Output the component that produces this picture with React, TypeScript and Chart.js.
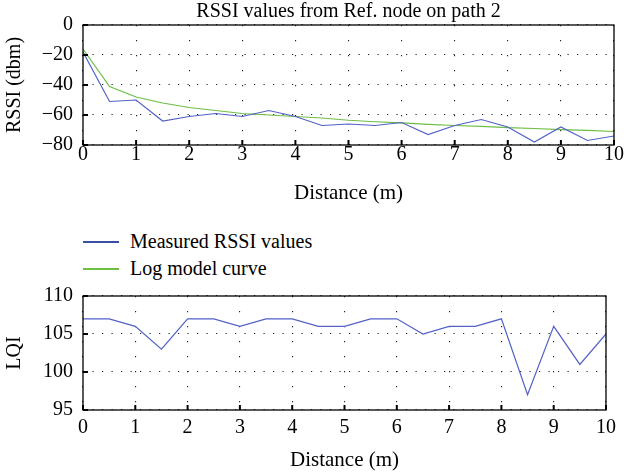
import React, { useEffect, useRef } from "react";
import { Chart, registerables } from "chart.js";

Chart.register(...registerables);

const distance = [0, 0.5, 1, 1.5, 2, 2.5, 3, 3.5, 4, 4.5, 5, 5.5, 6, 6.5, 7, 7.5, 8, 8.5, 9, 9.5, 10];
const measuredRSSI = [-18, -51, -50, -64, -61, -59, -61, -57, -61, -67, -66, -67, -65, -73, -67, -63, -68, -78, -68, -77, -74];
const logModelRSSI = [-16, -41, -48, -52, -55, -57, -59, -60, -61, -62, -63.5, -64.5, -65.3, -66.2, -67, -67.6, -68.4, -69, -69.7, -70.3, -71];
const measuredLQI = [107, 107, 106, 103, 107, 107, 106, 107, 107, 106, 106, 107, 107, 105, 106, 106, 107, 97, 106, 101, 105];
const xTickValues = [0, 1, 2, 3, 4, 5, 6, 7, 8, 9, 10];
const rssiTickValues = [0, -20, -40, -60, -80];
const lqiTickValues = [95, 100, 105, 110];
const seriesLabels = ["Measured RSSI values", "Log model curve"];
const seriesColors = ["#5262c8", "#6dbe45"];
const legendColors = ["#3a4fa3", "#6cbf3f"];

const FONT = "'Liberation Serif', 'Times New Roman', serif";

const framePlugin = {
  id: "frameTicks",
  afterDraw(chart: any) {
    const { ctx, chartArea, scales } = chart;
    const { left, right, top, bottom } = chartArea;
    ctx.save();
    ctx.strokeStyle = "#000";
    ctx.lineWidth = 1.3;
    ctx.setLineDash([]);
    ctx.strokeRect(left, top, right - left, bottom - top);
    ctx.lineWidth = 2;
    scales.x.ticks.forEach((t: any) => {
      const px = scales.x.getPixelForValue(t.value);
      ctx.beginPath();
      ctx.moveTo(px, bottom);
      ctx.lineTo(px, bottom - 5);
      ctx.stroke();
    });
    scales.y.ticks.forEach((t: any) => {
      const py = scales.y.getPixelForValue(t.value);
      ctx.beginPath();
      ctx.moveTo(left, py);
      ctx.lineTo(left + 5, py);
      ctx.stroke();
    });
    ctx.restore();
  },
};

function pts(ys: number[]) {
  return distance.map((x, i) => ({ x, y: ys[i] }));
}

function fmt(v: number) {
  return String(v).replace("-", "\u2212");
}

function makeOptions(cfg: {
  yMin: number;
  yMax: number;
  yTicks: number[];
  yTitle: string;
  title?: string;
  padTop: number;
  xTickPad: number;
  xTitlePadBottom: number;
}) {
  return {
    animation: false,
    responsive: false,
    maintainAspectRatio: false,
    layout: { padding: { top: cfg.padTop, right: 9, left: 0, bottom: 0 } },
    plugins: {
      legend: { display: false },
      tooltip: { enabled: false },
      title: cfg.title
        ? {
            display: true,
            fullSize: false,
            text: cfg.title,
            color: "#000",
            font: { family: FONT, size: 20, weight: "normal", lineHeight: 1.2 },
            padding: { top: 0, bottom: 1 },
          }
        : { display: false },
    },
    scales: {
      x: {
        type: "linear",
        min: 0,
        max: 10,
        afterBuildTicks: (s: any) => {
          s.ticks = xTickValues.map((v) => ({ value: v }));
        },
        afterFit: (s: any) => {
          s.height = 65;
        },
        ticks: {
          color: "#000",
          font: { family: FONT, size: 20, lineHeight: 1 },
          padding: cfg.xTickPad,
          maxRotation: 0,
          autoSkip: false,
          callback: (v: any) => fmt(v),
        },
        grid: { color: "#222", lineWidth: 1.1, drawTicks: false },
        border: { display: false, dash: [1.2, 13.8] },
        title: {
          display: true,
          text: "Distance (m)",
          color: "#000",
          font: { family: FONT, size: 21, lineHeight: 1.2 },
          padding: { top: 0, bottom: cfg.xTitlePadBottom },
        },
      },
      y: {
        type: "linear",
        min: cfg.yMin,
        max: cfg.yMax,
        afterBuildTicks: (s: any) => {
          s.ticks = cfg.yTicks.map((v) => ({ value: v }));
        },
        afterFit: (s: any) => {
          s.width = 83;
        },
        ticks: {
          color: "#000",
          font: { family: FONT, size: 20, lineHeight: 1 },
          padding: 10,
          autoSkip: false,
          callback: (v: any) => fmt(v),
        },
        grid: { color: "#222", lineWidth: 1.1, drawTicks: false },
        border: { display: false, dash: [1.2, 8.3] },
        title: {
          display: true,
          text: cfg.yTitle,
          color: "#000",
          font: { family: FONT, size: 20, lineHeight: 1.2 },
          padding: { top: 3, bottom: 0 },
        },
      },
    },
  } as any;
}

export default function App() {
  const topRef = useRef<HTMLCanvasElement>(null);
  const botRef = useRef<HTMLCanvasElement>(null);

  useEffect(() => {
    const c1 = new Chart(topRef.current as HTMLCanvasElement, {
      type: "line",
      data: {
        datasets: [
          {
            label: seriesLabels[0],
            data: pts(measuredRSSI),
            borderColor: seriesColors[0],
            borderWidth: 1.2,
            pointRadius: 0,
            tension: 0,
          },
          {
            label: seriesLabels[1],
            data: pts(logModelRSSI),
            borderColor: seriesColors[1],
            borderWidth: 1.2,
            pointRadius: 0,
            tension: 0,
          },
        ],
      },
      options: makeOptions({
        yMin: -80,
        yMax: 0,
        yTicks: rssiTickValues,
        yTitle: "RSSI (dbm)",
        title: "RSSI values from Ref. node on path 2",
        padTop: 0,
        xTickPad: 0,
        xTitlePadBottom: 4.4,
      }),
      plugins: [framePlugin],
    });
    const c2 = new Chart(botRef.current as HTMLCanvasElement, {
      type: "line",
      data: {
        datasets: [
          {
            label: "LQI",
            data: pts(measuredLQI),
            borderColor: seriesColors[0],
            borderWidth: 1.2,
            pointRadius: 0,
            tension: 0,
          },
        ],
      },
      options: makeOptions({
        yMin: 95,
        yMax: 110,
        yTicks: lqiTickValues,
        yTitle: "LQI",
        padTop: 15,
        xTickPad: 8,
        xTitlePadBottom: 2.4,
      }),
      plugins: [framePlugin],
    });
    return () => {
      c1.destroy();
      c2.destroy();
    };
  }, []);

  return (
    <div style={{ position: "fixed", left: 0, top: 0, width: 624, height: 475, background: "#fff" }}>
      <canvas ref={topRef} width={624} height={210} style={{ position: "absolute", left: 0, top: 0 }} />
      <div style={{ position: "absolute", left: 83, top: 228, fontFamily: FONT, fontSize: 20, color: "#000" }}>
        {seriesLabels.map((lab, i) => (
          <div key={lab} style={{ position: "relative", height: 27, lineHeight: "27px", whiteSpace: "nowrap" }}>
            <span
              style={{
                position: "absolute",
                left: 0,
                top: 13,
                width: 36,
                height: 2,
                background: legendColors[i],
              }}
            />
            <span style={{ position: "absolute", left: 47, top: 0 }}>{lab}</span>
          </div>
        ))}
      </div>
      <canvas ref={botRef} width={624} height={199} style={{ position: "absolute", left: 0, top: 276 }} />
    </div>
  );
}
